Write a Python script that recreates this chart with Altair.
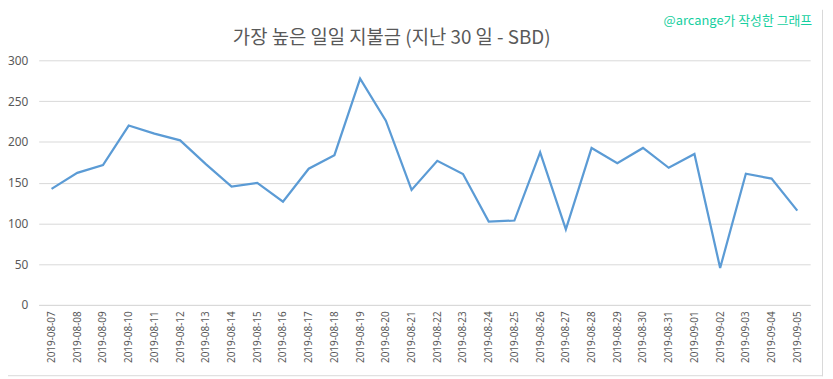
import altair as alt
import pandas as pd

dates = [
    "2019-08-07", "2019-08-08", "2019-08-09", "2019-08-10", "2019-08-11",
    "2019-08-12", "2019-08-13", "2019-08-14", "2019-08-15", "2019-08-16",
    "2019-08-17", "2019-08-18", "2019-08-19", "2019-08-20", "2019-08-21",
    "2019-08-22", "2019-08-23", "2019-08-24", "2019-08-25", "2019-08-26",
    "2019-08-27", "2019-08-28", "2019-08-29", "2019-08-30", "2019-08-31",
    "2019-09-01", "2019-09-02", "2019-09-03", "2019-09-04", "2019-09-05",
]
payouts = [
    142.3, 162.0, 171.4, 220.0, 210.0,
    201.8, 172.7, 145.2, 149.6, 126.6,
    167.0, 183.6, 277.4, 226.0, 141.0,
    176.7, 160.5, 102.3, 103.5, 187.2,
    92.6, 192.5, 173.9, 192.5, 168.2,
    185.2, 45.3, 160.9, 154.9, 115.6,
]
y_ticks = [0, 50, 100, 150, 200, 250, 300]

title_text = "가장 높은 일일 지불금 (지난 30 일 - SBD)"
credit_text = "@arcange가 작성한 그래프"

df = pd.DataFrame({"date": dates, "payout": payouts})

W, H = 779, 247

line = alt.Chart(df).mark_line(color="#5b9bd5", strokeWidth=2.25).encode(
    x=alt.X(
        "date:O",
        sort=None,
        title=None,
        scale=alt.Scale(type="point", padding=0.5),
        axis=alt.Axis(
            labelAngle=-90,
            labelFontSize=10,
            labelColor="#595959",
            labelFont="Noto Sans",
            labelPadding=6,
            ticks=False,
            domainColor="#d9d9d9",
            domainWidth=1,
            grid=False,
        ),
    ),
    y=alt.Y(
        "payout:Q",
        title=None,
        scale=alt.Scale(domain=[0, 300], nice=False),
        axis=alt.Axis(
            values=y_ticks,
            labelFontSize=12,
            labelColor="#595959",
            labelFont="Noto Sans",
            labelPadding=11,
            ticks=False,
            domain=False,
            gridColor="#d9d9d9",
            gridWidth=1,
        ),
    ),
)

title = alt.Chart(pd.DataFrame({"t": [title_text]})).mark_text(
    align="center",
    baseline="middle",
    fontSize=19,
    font="Noto Sans CJK KR",
    color="#595959",
).encode(text="t:N", x=alt.value(356.5), y=alt.value(-22))

credit = alt.Chart(pd.DataFrame({"t": [credit_text]})).mark_text(
    align="right",
    baseline="middle",
    fontSize=13,
    font="Noto Sans CJK KR",
    color="#17cfa0",
).encode(text="t:N", x=alt.value(781), y=alt.value(-40))

border_r = alt.Chart(pd.DataFrame({"a": [0]})).mark_rule(
    color="#d9d9d9", strokeWidth=1
).encode(x=alt.value(791.5), y=alt.value(-51), y2=alt.value(319))

border_b = alt.Chart(pd.DataFrame({"a": [0]})).mark_rule(
    color="#d9d9d9", strokeWidth=1
).encode(x=alt.value(-31), x2=alt.value(792), y=alt.value(318.5))

chart = (
    alt.layer(line, title, credit, border_r, border_b)
    .properties(
        width=W,
        height=H,
        autosize=alt.AutoSizeParams(type="none"),
        padding={"left": 31, "top": 51, "right": 15, "bottom": 73},
        background="white",
    )
    .configure_view(stroke=None)
)

chart.save("out.html", embed_options={"renderer": "svg", "actions": False})
